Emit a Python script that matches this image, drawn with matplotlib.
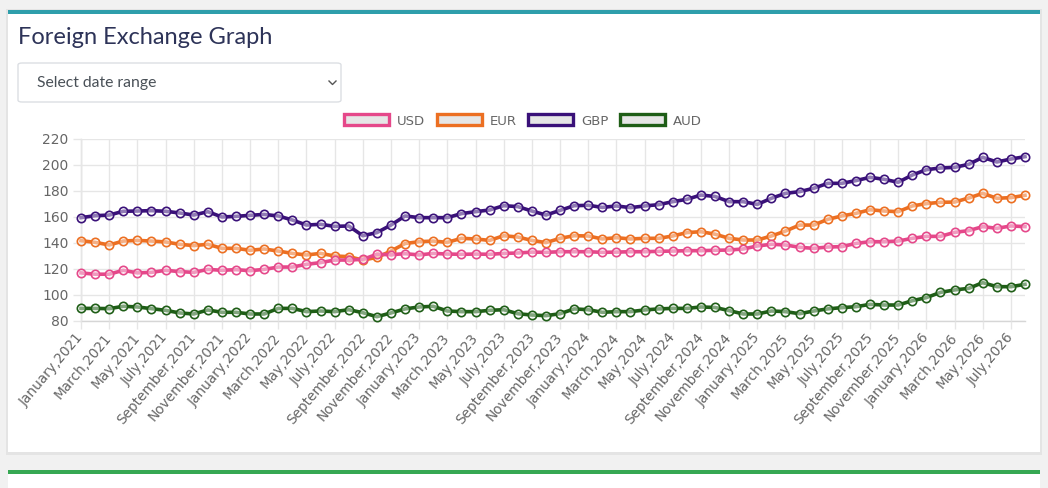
import matplotlib
matplotlib.use("Agg")
import matplotlib.pyplot as plt
from matplotlib.patches import Rectangle, FancyBboxPatch, Patch
from matplotlib.lines import Line2D

# ---------------- data ----------------
month_names = ["January", "February", "March", "April", "May", "June", "July",
               "August", "September", "October", "November", "December"]
years = [2021, 2022, 2023, 2024, 2025, 2026]

usd = [117, 116, 116, 119, 117, 117.4, 119, 118, 117.4, 119.7, 119, 119.5,
       118.7, 119.7, 121.5, 121.5, 123.6, 124.9, 126.9, 126.9, 127.4, 131.3, 131, 131.8,
       130.8, 132, 131.5, 131.3, 131.5, 131.3, 132, 132.3, 133, 132.8, 133.3, 133.3,
       133.3, 132.8, 133, 133.3, 133.3, 133.6, 133.8, 134.1, 134.1, 134.4, 134.6, 135.4,
       137.7, 139, 138.5, 136.7, 135.9, 136.9, 137.2, 139.7, 141, 141, 141.5, 143.6,
       145.1, 145.1, 148.2, 149.5, 152.6, 151.3, 153.1, 152.6]

eur = [141.8, 140.5, 138.5, 141.5, 142, 141.5, 140.8, 139, 138, 139, 135.9, 135.9,
       134.4, 135.4, 133.8, 132, 130.8, 132, 130, 129.5, 126.9, 128.9, 133.8, 139.6,
       141, 141.5, 140.5, 143.6, 143.1, 142, 145.6, 144.6, 142, 140.3, 143.6, 145.6,
       145.4, 143.1, 144.1, 143.1, 143.6, 143.6, 145.4, 148, 148.7, 146.8, 143.6, 142.3,
       142.3, 145.4, 149.2, 153.8, 153.8, 158.2, 160.8, 162.8, 165.6, 164.6, 164.1, 168.5,
       170.3, 171.3, 171.5, 174.6, 178.2, 174.4, 174.9, 176.7]

gbp = [159.5, 161, 161.5, 164.4, 164.6, 164.9, 164.4, 163.1, 161.5, 164.1, 160, 160.5,
       161.3, 162, 160.8, 157.7, 153.8, 154.4, 152.8, 153.1, 145.6, 148, 153.8, 160.8,
       159.5, 159.5, 159.5, 162.6, 164.1, 165.4, 168.7, 168, 164.6, 161.5, 165.1, 168.7,
       169, 167.4, 168.5, 167.2, 168.5, 169.5, 171.8, 173.6, 176.9, 175.8, 171.8, 171.8,
       169.7, 174.4, 178.2, 179.5, 182.1, 185.9, 185.9, 188, 190.5, 189, 186.7, 192.3,
       196.4, 197.7, 198.2, 200.5, 205.9, 202.3, 204.6, 206.4]

aud = [89.7, 89.7, 89.5, 91.3, 90.8, 89.5, 88.2, 86.2, 85.4, 88.5, 86.7, 86.7,
       85.4, 85.4, 89.7, 89.7, 87.2, 87.7, 87.2, 88.7, 86.4, 83.3, 86.2, 89.3,
       90.8, 91.3, 87.7, 87.2, 87.2, 88.2, 88.7, 85.6, 84.6, 84.1, 85.6, 89.3,
       88.7, 86.7, 87.2, 87.2, 88.5, 89.3, 89.7, 89.7, 90.8, 90.4, 88, 85.4,
       85.4, 87.7, 87.2, 85.6, 87.7, 89.3, 90.3, 91, 92.8, 92.3, 92.3, 95.6,
       98, 102, 103.9, 105.1, 109.5, 106.4, 106.4, 108.2]

series_names = ["USD", "EUR", "GBP", "AUD"]
series_values = [usd, eur, gbp, aud]
series_colors = ["#e5488a", "#ec6f22", "#3a1179", "#1f5e17"]

n_months = len(usd)
labels = [f"{month_names[i % 12]},{years[i // 12]}" for i in range(n_months)]
x = list(range(n_months))

# ---------------- figure ----------------
W, H = 1048, 488
fig = plt.figure(figsize=(W / 100, H / 100), dpi=100)
fig.patch.set_facecolor("#f1f1f1")


def fx(px):
    return px / W


def fy(py):
    return 1 - py / H


# card shadow + card
fig.patches.append(Rectangle((fx(6), fy(455)), fx(1036), (455 - 9) / H,
                             transform=fig.transFigure, facecolor="#e4e4e4",
                             edgecolor="none", zorder=-3))
fig.patches.append(Rectangle((fx(8), fy(452)), fx(1032), (452 - 10) / H,
                             transform=fig.transFigure, facecolor="white",
                             edgecolor="none", zorder=-2))
fig.patches.append(Rectangle((fx(8), fy(14)), fx(1032), 4 / H,
                             transform=fig.transFigure, facecolor="#2e9eab",
                             edgecolor="none", zorder=-1))
# second card
fig.patches.append(Rectangle((fx(8), 0), fx(1032), (H - 470) / H,
                             transform=fig.transFigure, facecolor="white",
                             edgecolor="none", zorder=-2))
fig.patches.append(Rectangle((fx(8), fy(474)), fx(1032), 4 / H,
                             transform=fig.transFigure, facecolor="#36a853",
                             edgecolor="none", zorder=-1))

# title
fig.text(fx(18), fy(37), "Foreign Exchange Graph", fontsize=17, family="Lato",
         color="#2d3358", ha="left", va="center")

# dropdown
fig.patches.append(FancyBboxPatch((fx(18), fy(102)), fx(323), 39 / H,
                                  boxstyle="round,pad=0,rounding_size=0.004",
                                  transform=fig.transFigure, facecolor="white",
                                  edgecolor="#dcdfe3", linewidth=1, zorder=-1))
fig.text(fx(37), fy(83), "Select date range", fontsize=11.3, family="Lato",
         color="#495057", ha="left", va="center")
fig.lines.append(Line2D([fx(329), fx(332.5), fx(336)], [fy(81), fy(84.5), fy(81)],
                        transform=fig.transFigure, color="#555555", linewidth=1))

# ---------------- axes ----------------
ax = fig.add_axes([fx(81), fy(321), fx(1025 - 81), (321 - 139) / H])
ax.set_zorder(2)
ax.set_facecolor("none")

for k, (name, vals, col) in enumerate(zip(series_names, series_values, series_colors)):
    ax.plot(x, vals, color=col, linewidth=2.6, marker="o", markersize=6.0,
            markerfacecolor=(1, 1, 1, 0.45), markeredgecolor=col,
            markeredgewidth=1.2, zorder=10 - k, clip_on=False, label=name)

ax.set_xlim(0, n_months - 1)
ax.set_ylim(80, 220)
ax.set_yticks(range(80, 221, 20))
ax.set_xticks(x[::2])
ax.set_xticklabels(labels[::2], rotation=50, ha="right", va="center",
                   rotation_mode="anchor")
ax.grid(True, color="#e6e6e6", linewidth=1)
ax.set_axisbelow(True)
for s in ["top", "right"]:
    ax.spines[s].set_visible(False)
for s in ["left", "bottom"]:
    ax.spines[s].set_color("#d6d6d6")
    ax.spines[s].set_linewidth(1)
    ax.spines[s].set_zorder(0.5)
ax.tick_params(axis="both", length=6, color="#e6e6e6", width=1,
               labelcolor="#666666", labelsize=10)
ax.tick_params(axis="x", pad=4, labelsize=9.8)
ax.tick_params(axis="y", pad=3)

# legend
handles = [Patch(facecolor="#e6e6e6", edgecolor=c, linewidth=2.4, label=n)
           for n, c in zip(series_names, series_colors)]
leg = fig.legend(handles=handles, loc="center", bbox_to_anchor=(fx(523), fy(121)),
                 ncol=4, frameon=False, fontsize=9.5, handlelength=3.4,
                 handleheight=0.9, handletextpad=0.6, columnspacing=0.9)
for t in leg.get_texts():
    t.set_color("#666666")

fig.savefig("out.png", dpi=100, facecolor=fig.get_facecolor())
